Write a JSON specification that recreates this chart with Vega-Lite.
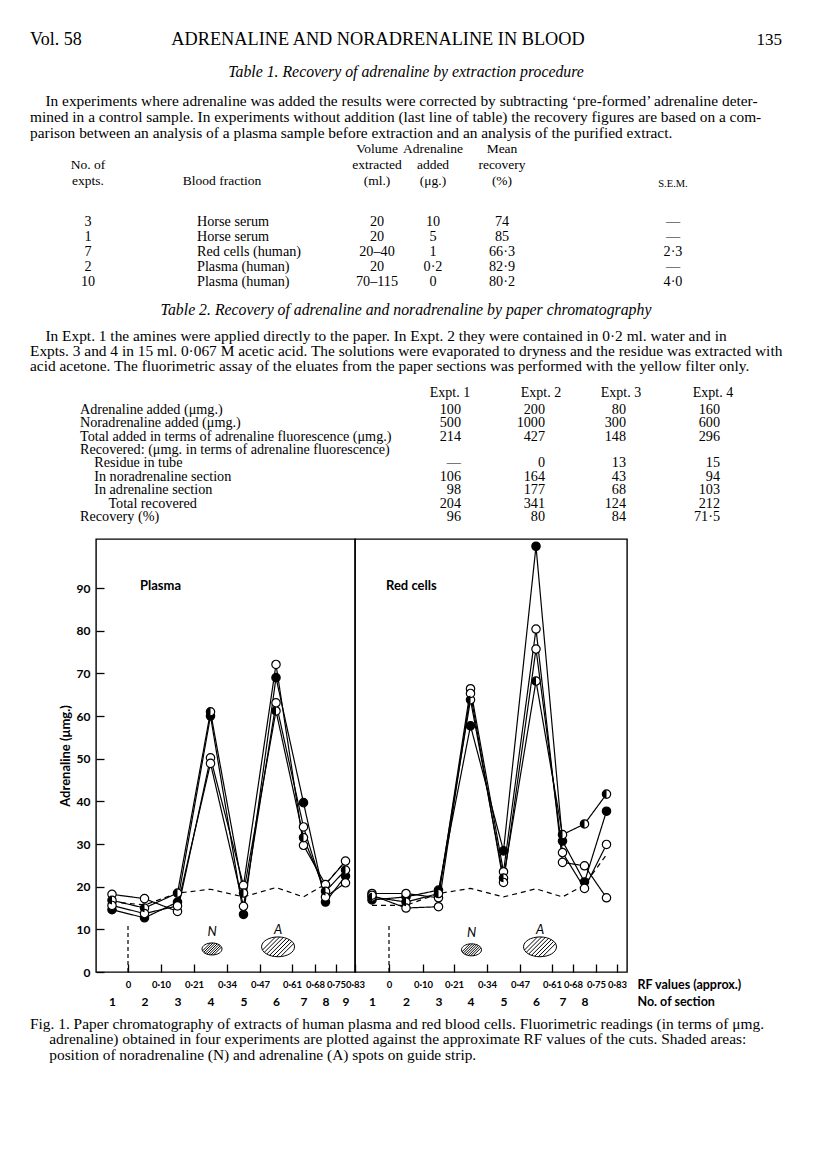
{
  "$schema": "https://vega.github.io/schema/vega-lite/v6.json",
  "background": "white",
  "padding": {"left": 30, "top": 30, "right": 2, "bottom": 2},
  "spacing": 0,
  "bounds": "flush",
  "config": {
    "view": {"stroke": null},
    "text": {"font": "Liberation Serif", "fontSize": 14.2, "color": "black"},
    "title": {"font": "Liberation Serif", "fontSize": 13.5, "fontWeight": "normal", "color": "black", "baseline": "alphabetic", "lineHeight": 16, "offset": 0},
    "axis": {"labelFont": "Lato", "labelFontWeight": "bold", "labelColor": "black", "titleFont": "Lato", "titleColor": "black", "grid": false, "tickColor": "black", "domain": false, "labelFlush": false, "labelOverlap": false, "labelBound": false}
  },
  "datasets": {
    "t1": [
      {"row": 1, "expts": "3", "fraction": "Horse serum", "volume": "20", "added": "10", "recovery": "74", "sem": "—"},
      {"row": 2, "expts": "1", "fraction": "Horse serum", "volume": "20", "added": "5", "recovery": "85", "sem": "—"},
      {"row": 3, "expts": "7", "fraction": "Red cells (human)", "volume": "20–40", "added": "1", "recovery": "66·3", "sem": "2·3"},
      {"row": 4, "expts": "2", "fraction": "Plasma (human)", "volume": "20", "added": "0·2", "recovery": "82·9", "sem": "—"},
      {"row": 5, "expts": "10", "fraction": "Plasma (human)", "volume": "70–115", "added": "0", "recovery": "80·2", "sem": "4·0"}
    ],
    "t2": [
      {"row": 1, "item": "Adrenaline added (μmg.)", "e1": "100", "e2": "200", "e3": "80", "e4": "160"},
      {"row": 2, "item": "Noradrenaline added (μmg.)", "e1": "500", "e2": "1000", "e3": "300", "e4": "600"},
      {"row": 3, "item": "Total added in terms of adrenaline fluorescence (μmg.)", "e1": "214", "e2": "427", "e3": "148", "e4": "296"},
      {"row": 4, "item": "Recovered: (μmg. in terms of adrenaline fluorescence)", "e1": "", "e2": "", "e3": "", "e4": ""},
      {"row": 5, "item": "\u200b\u2003Residue in tube", "e1": "—", "e2": "0", "e3": "13", "e4": "15"},
      {"row": 6, "item": "\u200b\u2003In noradrenaline section", "e1": "106", "e2": "164", "e3": "43", "e4": "94"},
      {"row": 7, "item": "\u200b\u2003In adrenaline section", "e1": "98", "e2": "177", "e3": "68", "e4": "103"},
      {"row": 8, "item": "\u200b\u2003\u2003Total recovered", "e1": "204", "e2": "341", "e3": "124", "e4": "212"},
      {"row": 9, "item": "Recovery (%)", "e1": "96", "e2": "80", "e3": "84", "e4": "71·5"}
    ],
    "readings": [
      {"panel": "Plasma", "expt": "A", "section": 1, "rf": -0.05, "value": 14.6},
      {"panel": "Plasma", "expt": "A", "section": 2, "rf": 0.05, "value": 12.7},
      {"panel": "Plasma", "expt": "A", "section": 3, "rf": 0.155, "value": 16.4},
      {"panel": "Plasma", "expt": "A", "section": 4, "rf": 0.275, "value": 60.0},
      {"panel": "Plasma", "expt": "A", "section": 5, "rf": 0.405, "value": 13.5},
      {"panel": "Plasma", "expt": "A", "section": 6, "rf": 0.54, "value": 69.0},
      {"panel": "Plasma", "expt": "A", "section": 7, "rf": 0.645, "value": 39.7},
      {"panel": "Plasma", "expt": "A", "section": 8, "rf": 0.715, "value": 16.4},
      {"panel": "Plasma", "expt": "A", "section": 9, "rf": 0.79, "value": 22.5},
      {"panel": "Plasma", "expt": "B", "section": 1, "rf": -0.05, "value": 18.2},
      {"panel": "Plasma", "expt": "B", "section": 2, "rf": 0.05, "value": 17.2},
      {"panel": "Plasma", "expt": "B", "section": 3, "rf": 0.155, "value": 14.2},
      {"panel": "Plasma", "expt": "B", "section": 4, "rf": 0.275, "value": 50.2},
      {"panel": "Plasma", "expt": "B", "section": 5, "rf": 0.405, "value": 20.3},
      {"panel": "Plasma", "expt": "B", "section": 6, "rf": 0.54, "value": 72.1},
      {"panel": "Plasma", "expt": "B", "section": 7, "rf": 0.645, "value": 29.7},
      {"panel": "Plasma", "expt": "B", "section": 8, "rf": 0.715, "value": 20.5},
      {"panel": "Plasma", "expt": "B", "section": 9, "rf": 0.79, "value": 26.0},
      {"panel": "Plasma", "expt": "C", "section": 1, "rf": -0.05, "value": 16.8},
      {"panel": "Plasma", "expt": "C", "section": 2, "rf": 0.05, "value": 15.0},
      {"panel": "Plasma", "expt": "C", "section": 3, "rf": 0.155, "value": 18.5},
      {"panel": "Plasma", "expt": "C", "section": 4, "rf": 0.275, "value": 61.0},
      {"panel": "Plasma", "expt": "C", "section": 5, "rf": 0.405, "value": 18.5},
      {"panel": "Plasma", "expt": "C", "section": 6, "rf": 0.54, "value": 61.2},
      {"panel": "Plasma", "expt": "C", "section": 7, "rf": 0.645, "value": 31.5},
      {"panel": "Plasma", "expt": "C", "section": 8, "rf": 0.715, "value": 18.9},
      {"panel": "Plasma", "expt": "C", "section": 9, "rf": 0.79, "value": 23.9},
      {"panel": "Plasma", "expt": "D", "section": 1, "rf": -0.05, "value": 15.6},
      {"panel": "Plasma", "expt": "D", "section": 2, "rf": 0.05, "value": 13.7},
      {"panel": "Plasma", "expt": "D", "section": 3, "rf": 0.155, "value": 15.5},
      {"panel": "Plasma", "expt": "D", "section": 4, "rf": 0.275, "value": 48.9},
      {"panel": "Plasma", "expt": "D", "section": 5, "rf": 0.405, "value": 15.4},
      {"panel": "Plasma", "expt": "D", "section": 6, "rf": 0.54, "value": 63.1},
      {"panel": "Plasma", "expt": "D", "section": 7, "rf": 0.645, "value": 34.0},
      {"panel": "Plasma", "expt": "D", "section": 8, "rf": 0.715, "value": 17.6},
      {"panel": "Plasma", "expt": "D", "section": 9, "rf": 0.79, "value": 20.9},
      {"panel": "Plasma", "expt": "blank", "section": 1, "rf": -0.05, "value": 16.5},
      {"panel": "Plasma", "expt": "blank", "section": 2, "rf": 0.05, "value": 15.7},
      {"panel": "Plasma", "expt": "blank", "section": 3, "rf": 0.155, "value": 18.5},
      {"panel": "Plasma", "expt": "blank", "section": 4, "rf": 0.275, "value": 19.4},
      {"panel": "Plasma", "expt": "blank", "section": 5, "rf": 0.405, "value": 17.6},
      {"panel": "Plasma", "expt": "blank", "section": 6, "rf": 0.54, "value": 19.8},
      {"panel": "Plasma", "expt": "blank", "section": 7, "rf": 0.645, "value": 17.6},
      {"panel": "Plasma", "expt": "blank", "section": 8, "rf": 0.715, "value": 20.6},
      {"panel": "Plasma", "expt": "blank", "section": 9, "rf": 0.79, "value": 26.0},
      {"panel": "Red cells", "expt": "A", "section": 1, "rf": -0.05, "value": 16.9},
      {"panel": "Red cells", "expt": "A", "section": 2, "rf": 0.05, "value": 17.6},
      {"panel": "Red cells", "expt": "A", "section": 3, "rf": 0.155, "value": 19.2},
      {"panel": "Red cells", "expt": "A", "section": 4, "rf": 0.275, "value": 57.7},
      {"panel": "Red cells", "expt": "A", "section": 5, "rf": 0.405, "value": 28.4},
      {"panel": "Red cells", "expt": "A", "section": 6, "rf": 0.54, "value": 99.8},
      {"panel": "Red cells", "expt": "A", "section": 7, "rf": 0.645, "value": 30.7},
      {"panel": "Red cells", "expt": "A", "section": 8, "rf": 0.715, "value": 21.1},
      {"panel": "Red cells", "expt": "A", "section": 9, "rf": 0.79, "value": 37.7},
      {"panel": "Red cells", "expt": "B", "section": 1, "rf": -0.05, "value": 18.4},
      {"panel": "Red cells", "expt": "B", "section": 2, "rf": 0.05, "value": 18.4},
      {"panel": "Red cells", "expt": "B", "section": 3, "rf": 0.155, "value": 17.4},
      {"panel": "Red cells", "expt": "B", "section": 4, "rf": 0.275, "value": 66.4},
      {"panel": "Red cells", "expt": "B", "section": 5, "rf": 0.405, "value": 23.5},
      {"panel": "Red cells", "expt": "B", "section": 6, "rf": 0.54, "value": 80.4},
      {"panel": "Red cells", "expt": "B", "section": 7, "rf": 0.645, "value": 25.7},
      {"panel": "Red cells", "expt": "B", "section": 8, "rf": 0.715, "value": 24.9},
      {"panel": "Red cells", "expt": "B", "section": 9, "rf": 0.79, "value": 17.4},
      {"panel": "Red cells", "expt": "C", "section": 1, "rf": -0.05, "value": 17.6},
      {"panel": "Red cells", "expt": "C", "section": 2, "rf": 0.05, "value": 16.4},
      {"panel": "Red cells", "expt": "C", "section": 3, "rf": 0.155, "value": 18.4},
      {"panel": "Red cells", "expt": "C", "section": 4, "rf": 0.275, "value": 63.8},
      {"panel": "Red cells", "expt": "C", "section": 5, "rf": 0.405, "value": 22.0},
      {"panel": "Red cells", "expt": "C", "section": 6, "rf": 0.54, "value": 68.2},
      {"panel": "Red cells", "expt": "C", "section": 7, "rf": 0.645, "value": 32.2},
      {"panel": "Red cells", "expt": "C", "section": 8, "rf": 0.715, "value": 34.7},
      {"panel": "Red cells", "expt": "C", "section": 9, "rf": 0.79, "value": 41.7},
      {"panel": "Red cells", "expt": "D", "section": 1, "rf": -0.05, "value": 18.0},
      {"panel": "Red cells", "expt": "D", "section": 2, "rf": 0.05, "value": 15.0},
      {"panel": "Red cells", "expt": "D", "section": 3, "rf": 0.155, "value": 15.3},
      {"panel": "Red cells", "expt": "D", "section": 4, "rf": 0.275, "value": 65.3},
      {"panel": "Red cells", "expt": "D", "section": 5, "rf": 0.405, "value": 21.0},
      {"panel": "Red cells", "expt": "D", "section": 6, "rf": 0.54, "value": 75.7},
      {"panel": "Red cells", "expt": "D", "section": 7, "rf": 0.645, "value": 28.0},
      {"panel": "Red cells", "expt": "D", "section": 8, "rf": 0.715, "value": 19.6},
      {"panel": "Red cells", "expt": "D", "section": 9, "rf": 0.79, "value": 29.9},
      {"panel": "Red cells", "expt": "blank", "section": 1, "rf": -0.05, "value": 15.6},
      {"panel": "Red cells", "expt": "blank", "section": 2, "rf": 0.05, "value": 15.6},
      {"panel": "Red cells", "expt": "blank", "section": 3, "rf": 0.155, "value": 18.4},
      {"panel": "Red cells", "expt": "blank", "section": 4, "rf": 0.275, "value": 19.6},
      {"panel": "Red cells", "expt": "blank", "section": 5, "rf": 0.405, "value": 17.6},
      {"panel": "Red cells", "expt": "blank", "section": 6, "rf": 0.54, "value": 19.5},
      {"panel": "Red cells", "expt": "blank", "section": 7, "rf": 0.645, "value": 17.6},
      {"panel": "Red cells", "expt": "blank", "section": 8, "rf": 0.715, "value": 20.4},
      {"panel": "Red cells", "expt": "blank", "section": 9, "rf": 0.79, "value": 27.5}
    ],
    "spots": [
      {"panel": "Plasma", "spot": "N", "rf": 0.281, "value": 5.4},
      {"panel": "Plasma", "spot": "A", "rf": 0.549, "value": 5.9},
      {"panel": "Red cells", "spot": "N", "rf": 0.279, "value": 5.2},
      {"panel": "Red cells", "spot": "A", "rf": 0.5575, "value": 5.9}
    ],
    "origin": [{"rf": 0, "value": 0, "top": 11.5}]
  },
  "vconcat": [
    {
      "width": 752, "height": 20,
      "data": {"values": [{"slot": "left", "text": "Vol. 58"}, {"slot": "centre", "text": "ADRENALINE AND NORADRENALINE IN BLOOD"}, {"slot": "right", "text": "135"}]},
      "encoding": {
        "x": {"field": "slot", "type": "nominal", "axis": null, "scale": {"type": "point", "domain": ["left", "centre", "right"], "padding": 0}},
        "text": {"field": "text"}
      },
      "layer": [
        {"transform": [{"filter": "datum.slot == 'left'"}], "mark": {"type": "text", "align": "left", "baseline": "middle", "fontSize": 18}},
        {"transform": [{"filter": "datum.slot == 'centre'"}], "mark": {"type": "text", "align": "center", "baseline": "middle", "fontSize": 18.3, "dx": -28}},
        {"transform": [{"filter": "datum.slot == 'right'"}], "mark": {"type": "text", "align": "right", "baseline": "middle", "fontSize": 17}}
      ]
    },
    {
      "width": 752, "height": 30, "data": {"values": []}, "mark": "text",
      "title": {"text": "Table 1.  Recovery of adrenaline by extraction procedure", "anchor": "middle", "frame": "group", "offset": -30.3, "fontStyle": "italic", "fontSize": 15.8}
    },
    {
      "width": 752, "height": 133.4, "data": {"values": []}, "mark": "text",
      "title": {"text": ["\u200b\u2003In experiments where adrenaline was added the results were corrected by subtracting ‘pre-formed’ adrenaline deter-", "mined in a control sample.  In experiments without addition (last line of table) the recovery figures are based on a com-", "parison between an analysis of a plasma sample before extraction and an analysis of the purified extract."], "anchor": "start", "frame": "group", "offset": -61, "fontSize": 15.4, "lineHeight": 16}
    },
    {
      "spacing": 0, "bounds": "flush",
      "hconcat": [
        {"width": 116, "height": 76, "data": {"name": "t1"}, "title": {"text": ["No. of", "expts."], "offset": 26.3, "frame": "group", "anchor": "middle"}, "mark": {"type": "text", "align": "center", "baseline": "middle"}, "encoding": {"y": {"field": "row", "type": "ordinal", "axis": null, "scale": {"type": "point", "padding": 0.5}}, "text": {"field": "expts"}}},
        {"width": 102, "height": 76, "data": {"name": "t1"}, "title": {"text": "Blood fraction", "offset": 26.3, "frame": "group", "anchor": "middle", "dx": 25}, "mark": {"type": "text", "align": "left", "baseline": "middle"}, "encoding": {"y": {"field": "row", "type": "ordinal", "axis": null, "scale": {"type": "point", "padding": 0.5}}, "text": {"field": "fraction"}}},
        {"width": 102, "height": 76, "data": {"values": []}, "mark": "text"},
        {"width": 54, "height": 76, "data": {"name": "t1"}, "title": {"text": ["Volume", "extracted", "(ml.)"], "offset": 26.3, "frame": "group", "anchor": "middle"}, "mark": {"type": "text", "align": "center", "baseline": "middle"}, "encoding": {"y": {"field": "row", "type": "ordinal", "axis": null, "scale": {"type": "point", "padding": 0.5}}, "text": {"field": "volume"}}},
        {"width": 58, "height": 76, "data": {"name": "t1"}, "title": {"text": ["Adrenaline", "added", "(μg.)"], "offset": 26.3, "frame": "group", "anchor": "middle"}, "mark": {"type": "text", "align": "center", "baseline": "middle"}, "encoding": {"y": {"field": "row", "type": "ordinal", "axis": null, "scale": {"type": "point", "padding": 0.5}}, "text": {"field": "added"}}},
        {"width": 80, "height": 76, "data": {"name": "t1"}, "title": {"text": ["Mean", "recovery", "(%)"], "offset": 26.3, "frame": "group", "anchor": "middle"}, "mark": {"type": "text", "align": "center", "baseline": "middle"}, "encoding": {"y": {"field": "row", "type": "ordinal", "axis": null, "scale": {"type": "point", "padding": 0.5}}, "text": {"field": "recovery"}}},
        {"width": 262, "height": 76, "data": {"name": "t1"}, "title": {"text": "S.E.M.", "offset": 24.8, "frame": "group", "anchor": "middle", "fontSize": 10.5}, "mark": {"type": "text", "align": "center", "baseline": "middle"}, "encoding": {"y": {"field": "row", "type": "ordinal", "axis": null, "scale": {"type": "point", "padding": 0.5}}, "text": {"field": "sem"}}}
      ]
    },
    {
      "width": 752, "height": 106, "data": {"values": []}, "mark": "text",
      "title": {"text": "Table 2.  Recovery of adrenaline and noradrenaline by paper chromatography", "anchor": "middle", "frame": "group", "offset": -104.9, "fontStyle": "italic", "fontSize": 15.8}
    },
    {
      "width": 752, "height": 82.9, "data": {"values": []}, "mark": "text",
      "title": {"text": ["\u200b\u2003In Expt. 1 the amines were applied directly to the paper.  In Expt. 2 they were contained in 0·2 ml. water and in", "Expts. 3 and 4 in 15 ml. 0·067 M acetic acid. The solutions were evaporated to dryness and the residue was extracted with", "acid acetone. The fluorimetric assay of the eluates from the paper sections was performed with the yellow filter only."], "anchor": "start", "frame": "group", "offset": -54.6, "fontSize": 15.4, "lineHeight": 15}
    },
    {
      "spacing": 0, "bounds": "flush",
      "hconcat": [
        {"width": 100, "height": 120.6, "data": {"name": "t2"}, "mark": {"type": "text", "align": "left", "baseline": "middle"}, "encoding": {"y": {"field": "row", "type": "ordinal", "axis": null, "scale": {"type": "point", "padding": 0.5}}, "text": {"field": "item"}}},
        {"width": 290, "height": 120.6, "data": {"values": []}, "mark": "text"},
        {"width": 82, "height": 120.6, "data": {"name": "t2"}, "title": {"text": "Expt. 1", "offset": 3, "frame": "group", "anchor": "middle", "dx": -11, "fontSize": 14}, "mark": {"type": "text", "align": "right", "baseline": "middle"}, "encoding": {"y": {"field": "row", "type": "ordinal", "axis": null, "scale": {"type": "point", "padding": 0.5}}, "text": {"field": "e1"}}},
        {"width": 86, "height": 120.6, "data": {"name": "t2"}, "title": {"text": "Expt. 2", "offset": 3, "frame": "group", "anchor": "middle", "dx": -4, "fontSize": 14}, "mark": {"type": "text", "align": "right", "baseline": "middle"}, "encoding": {"y": {"field": "row", "type": "ordinal", "axis": null, "scale": {"type": "point", "padding": 0.5}}, "text": {"field": "e2"}}},
        {"width": 76, "height": 120.6, "data": {"name": "t2"}, "title": {"text": "Expt. 3", "offset": 3, "frame": "group", "anchor": "middle", "dx": -5, "fontSize": 14}, "mark": {"type": "text", "align": "right", "baseline": "middle"}, "encoding": {"y": {"field": "row", "type": "ordinal", "axis": null, "scale": {"type": "point", "padding": 0.5}}, "text": {"field": "e3"}}},
        {"width": 112, "height": 120.6, "data": {"name": "t2"}, "title": {"text": "Expt. 4", "offset": 3, "frame": "group", "anchor": "middle", "dx": -7, "fontSize": 14}, "mark": {"type": "text", "align": "right", "baseline": "middle"}, "encoding": {"y": {"field": "row", "type": "ordinal", "axis": null, "scale": {"type": "point", "padding": 0.5}}, "text": {"field": "e4"}}}
      ]
    },
    {"width": 752, "height": 135.7, "data": {"values": []}, "mark": "text"},
    {
      "spacing": 0, "bounds": "flush",
      "hconcat": [
        {"width": 66, "height": 433, "data": {"values": []}, "mark": "text"},
        {
          "width": 259, "height": 433,
          "view": {"stroke": "black", "strokeWidth": 1.4},
          "title": {"text": "Plasma", "anchor": "start", "frame": "group", "offset": -54, "dx": 44, "font": "Lato", "fontSize": 13, "fontWeight": "bold"},
          "resolve": {"axis": {"x": "independent"}},
          "encoding": {
            "x": {"field": "rf", "type": "quantitative", "axis": null, "scale": {"domain": [-0.1, 0, 0.1, 0.21, 0.34, 0.47, 0.61, 0.68, 0.75, 0.83], "range": [0, 32, 65, 98, 131, 164, 196, 219, 240, 259], "nice": false, "zero": false}},
            "y": {"field": "value", "type": "quantitative", "scale": {"domain": [0, 101.5], "nice": false, "zero": false},
                  "axis": {"values": [0, 10, 20, 30, 40, 50, 60, 70, 80, 90], "tickSize": -8, "tickWidth": 1.3, "labelPadding": 14, "labelFontSize": 12, "title": "Adrenaline (μmg.)", "titleFontSize": 13, "titleFontWeight": "bold", "titleX": -31, "titleY": 216.5, "titleAngle": -90, "titleAlign": "center", "titleBaseline": "middle"}}
          },
          "layer": [
            {"data": {"name": "origin"}, "mark": {"type": "rule", "strokeDash": [4, 3], "strokeWidth": 1.2, "color": "black"}, "encoding": {"y2": {"field": "top"}}},
            {"data": {"name": "readings"}, "transform": [{"filter": "datum.panel == 'Plasma'"}], "mark": {"type": "line", "color": "black", "strokeWidth": 1.2},
             "encoding": {
               "x": {"field": "rf", "type": "quantitative", "scale": {"domain": [-0.1, 0, 0.1, 0.21, 0.34, 0.47, 0.61, 0.68, 0.75, 0.83], "range": [0, 32, 65, 98, 131, 164, 196, 219, 240, 259], "nice": false, "zero": false},
                     "axis": {"orient": "bottom", "values": [0, 0.1, 0.21, 0.34, 0.47, 0.61, 0.68, 0.75, 0.83], "labelExpr": "datum.value == 0 ? '0' : replace(format(datum.value, '.2f'), '.', '·')", "title": null, "tickSize": -8, "tickWidth": 1.3, "labelPadding": 15, "labelFontSize": 9.5}},
               "order": {"field": "rf", "type": "quantitative"},
               "strokeDash": {"field": "expt", "type": "nominal", "scale": {"domain": ["A", "B", "C", "D", "blank"], "range": [[1, 0], [1, 0], [1, 0], [1, 0], [5, 4]]}, "legend": null}
             }},
            {"data": {"name": "readings"}, "transform": [{"filter": "datum.panel == 'Plasma' && datum.expt != 'blank'"}], "mark": {"type": "point", "shape": "circle", "filled": true, "size": 70, "stroke": "black", "strokeWidth": 1.2, "opacity": 1},
             "encoding": {
               "x": {"field": "rf", "type": "quantitative",
                     "axis": {"orient": "bottom", "values": [-0.05, 0.05, 0.155, 0.275, 0.405, 0.54, 0.645, 0.715, 0.79], "labelExpr": "datum.value < 0 ? '1' : datum.value < 0.1 ? '2' : datum.value < 0.21 ? '3' : datum.value < 0.34 ? '4' : datum.value < 0.47 ? '5' : datum.value < 0.61 ? '6' : datum.value < 0.68 ? '7' : datum.value < 0.75 ? '8' : '9'", "title": null, "ticks": false, "tickSize": 0, "offset": 22, "labelPadding": 2, "labelFontSize": 12}},
               "fill": {"field": "expt", "type": "nominal", "scale": {"domain": ["A", "B", "C", "D"], "range": ["black", "white", "white", "white"]}, "legend": null}
             }},
            {"data": {"name": "readings"}, "transform": [{"filter": "datum.panel == 'Plasma' && datum.expt == 'C'"}], "mark": {"type": "point", "shape": "M0,-1A1,1 0 0,0 0,1Z", "filled": true, "fill": "black", "size": 70, "strokeWidth": 0, "opacity": 1}},
            {"data": {"name": "spots"}, "transform": [{"filter": "datum.panel == 'Plasma'"}], "mark": {"type": "point", "shape": "M-1,0A1,0.6 0 1,0 1,0A1,0.6 0 1,0 -1,0Z M-0.9454,0.1954L-0.1575,-0.5925 M-0.8325,0.3325L0.0972,-0.5972 M-0.6864,0.4364L0.3187,-0.5687 M-0.5145,0.5145L0.5145,-0.5145 M-0.3187,0.5687L0.6864,-0.4364 M-0.0972,0.5972L0.8325,-0.3325 M0.1575,0.5925L0.9454,-0.1954", "filled": false, "stroke": "black", "strokeWidth": 1, "opacity": 1},
             "encoding": {"size": {"field": "spot", "type": "nominal", "scale": {"domain": ["N", "A"], "range": [400, 1089]}, "legend": null}}},
            {"data": {"name": "spots"}, "transform": [{"filter": "datum.panel == 'Plasma'"}], "mark": {"type": "text", "font": "Lato", "fontStyle": "italic", "fontSize": 13, "dy": -17, "baseline": "middle"}, "encoding": {"text": {"field": "spot"}}}
          ]
        },
        {
          "width": 272, "height": 433,
          "view": {"stroke": "black", "strokeWidth": 1.4},
          "title": {"text": "Red cells", "anchor": "start", "frame": "group", "offset": -54, "dx": 31, "font": "Lato", "fontSize": 13, "fontWeight": "bold"},
          "resolve": {"axis": {"x": "independent"}},
          "encoding": {
            "x": {"field": "rf", "type": "quantitative", "axis": null, "scale": {"domain": [-0.1, 0, 0.1, 0.21, 0.34, 0.47, 0.61, 0.68, 0.75, 0.83, 0.87], "range": [0, 34, 68, 99, 132, 165, 197, 218, 241, 262, 272], "nice": false, "zero": false}},
            "y": {"field": "value", "type": "quantitative", "scale": {"domain": [0, 101.5], "nice": false, "zero": false}, "axis": null}
          },
          "layer": [
            {"data": {"name": "origin"}, "mark": {"type": "rule", "strokeDash": [4, 3], "strokeWidth": 1.2, "color": "black"}, "encoding": {"y2": {"field": "top"}}},
            {"data": {"name": "readings"}, "transform": [{"filter": "datum.panel == 'Red cells'"}], "mark": {"type": "line", "color": "black", "strokeWidth": 1.2},
             "encoding": {
               "x": {"field": "rf", "type": "quantitative", "scale": {"domain": [-0.1, 0, 0.1, 0.21, 0.34, 0.47, 0.61, 0.68, 0.75, 0.83, 0.87], "range": [0, 34, 68, 99, 132, 165, 197, 218, 241, 262, 272], "nice": false, "zero": false},
                     "axis": {"orient": "bottom", "values": [0, 0.1, 0.21, 0.34, 0.47, 0.61, 0.68, 0.75, 0.83], "labelExpr": "datum.value == 0 ? '0' : replace(format(datum.value, '.2f'), '.', '·')", "title": "RF values (approx.)", "titleX": 282, "titleY": 12, "titleAlign": "left", "titleBaseline": "middle", "titleAngle": 0, "titleFontSize": 12.5, "titleFontWeight": "bold", "tickSize": -8, "tickWidth": 1.3, "labelPadding": 15, "labelFontSize": 9.5}},
               "order": {"field": "rf", "type": "quantitative"},
               "strokeDash": {"field": "expt", "type": "nominal", "scale": {"domain": ["A", "B", "C", "D", "blank"], "range": [[1, 0], [1, 0], [1, 0], [1, 0], [5, 4]]}, "legend": null}
             }},
            {"data": {"name": "readings"}, "transform": [{"filter": "datum.panel == 'Red cells' && datum.expt != 'blank'"}], "mark": {"type": "point", "shape": "circle", "filled": true, "size": 70, "stroke": "black", "strokeWidth": 1.2, "opacity": 1},
             "encoding": {
               "x": {"field": "rf", "type": "quantitative",
                     "axis": {"orient": "bottom", "values": [-0.05, 0.05, 0.155, 0.275, 0.405, 0.54, 0.645, 0.715], "labelExpr": "datum.value < 0 ? '1' : datum.value < 0.1 ? '2' : datum.value < 0.21 ? '3' : datum.value < 0.34 ? '4' : datum.value < 0.47 ? '5' : datum.value < 0.61 ? '6' : datum.value < 0.68 ? '7' : datum.value < 0.75 ? '8' : '9'", "title": "No. of section", "titleX": 282, "titleY": 7, "titleAlign": "left", "titleBaseline": "middle", "titleAngle": 0, "titleFontSize": 12.5, "titleFontWeight": "bold", "ticks": false, "tickSize": 0, "offset": 22, "labelPadding": 2, "labelFontSize": 12}},
               "fill": {"field": "expt", "type": "nominal", "scale": {"domain": ["A", "B", "C", "D"], "range": ["black", "white", "white", "white"]}, "legend": null}
             }},
            {"data": {"name": "readings"}, "transform": [{"filter": "datum.panel == 'Red cells' && datum.expt == 'C'"}], "mark": {"type": "point", "shape": "M0,-1A1,1 0 0,0 0,1Z", "filled": true, "fill": "black", "size": 70, "strokeWidth": 0, "opacity": 1}},
            {"data": {"name": "spots"}, "transform": [{"filter": "datum.panel == 'Red cells'"}], "mark": {"type": "point", "shape": "M-1,0A1,0.6 0 1,0 1,0A1,0.6 0 1,0 -1,0Z M-0.9454,0.1954L-0.1575,-0.5925 M-0.8325,0.3325L0.0972,-0.5972 M-0.6864,0.4364L0.3187,-0.5687 M-0.5145,0.5145L0.5145,-0.5145 M-0.3187,0.5687L0.6864,-0.4364 M-0.0972,0.5972L0.8325,-0.3325 M0.1575,0.5925L0.9454,-0.1954", "filled": false, "stroke": "black", "strokeWidth": 1, "opacity": 1},
             "encoding": {"size": {"field": "spot", "type": "nominal", "scale": {"domain": ["N", "A"], "range": [400, 1089]}, "legend": null}}},
            {"data": {"name": "spots"}, "transform": [{"filter": "datum.panel == 'Red cells'"}], "mark": {"type": "text", "font": "Lato", "fontStyle": "italic", "fontSize": 13, "dy": -17, "baseline": "middle"}, "encoding": {"text": {"field": "spot"}}}
          ]
        }
      ]
    },
    {
      "width": 752, "height": 523, "data": {"values": []}, "mark": "text",
      "title": {"text": ["Fig. 1.  Paper chromatography of extracts of human plasma and red blood cells.  Fluorimetric readings (in terms of μmg.", "\u200b\u2003\u2005adrenaline) obtained in four experiments are plotted against the approximate RF values of the cuts.  Shaded areas:", "\u200b\u2003\u2005position of noradrenaline (N) and adrenaline (A) spots on guide strip."], "anchor": "start", "frame": "group", "offset": -524, "fontSize": 15.4, "lineHeight": 15.5}
    }
  ]
}
